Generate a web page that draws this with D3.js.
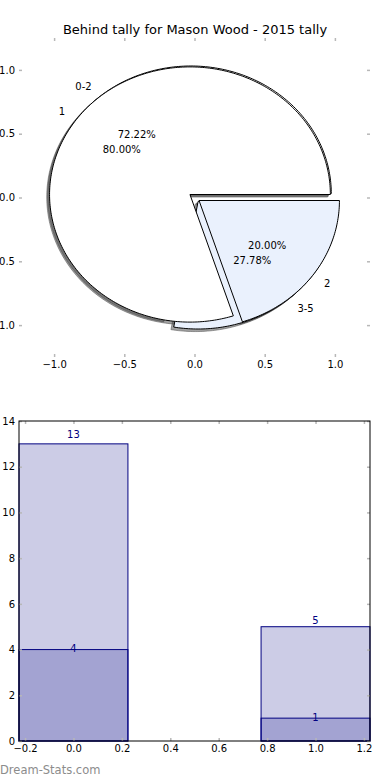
<!DOCTYPE html>
<html>
<head>
<meta charset="utf-8">
<script src="https://cdn.jsdelivr.net/npm/d3@7"></script>
<style>
  body { margin: 0; background: #fff; }
  text { font-family: "DejaVu Sans", sans-serif; }
</style>
</head>
<body>
<div id="chart"></div>
<script>
const svgWidth = 390;
const svgHeight = 780;

const titleText = 'Behind tally for Mason Wood - 2015 tally';

// outer pie: all behind tallies
const groupLabels = ['0-2', '3-5'];
const groupCounts = [13, 5];
// inner pie: behind tallies of one
const subLabels = ['1', '2'];
const subCounts = [4, 1];

const pieTicks = [-1.0, -0.5, 0.0, 0.5, 1.0];

// bar chart
const barPositions = [0, 1];
const barTotals = [13, 5];
const barSubs = [4, 1];
const barXTicks = [-0.2, 0.0, 0.2, 0.4, 0.6, 0.8, 1.0, 1.2];
const barYTicks = [0, 2, 4, 6, 8, 10, 12, 14];

const sliceColors = ['#ffffff', '#eaf1fd'];
const explode = 0.04;
const tickColor = '#b8b8b8';

const svg = d3.select('#chart')
    .append('svg')
    .attr('width', svgWidth)
    .attr('height', svgHeight);

// ---------- pie panel ----------
const px = d3.scaleLinear().domain([-1.25, 1.25]).range([19, 370]);
const py = d3.scaleLinear().domain([-1.25, 1.25]).range([357, 38]);

svg.append('text')
    .attr('x', 195)
    .attr('y', 34)
    .attr('text-anchor', 'middle')
    .attr('font-size', 13)
    .text(titleText);

function buildWedges(labels, counts) {
    const total = d3.sum(counts);
    let theta1 = 0;
    return counts.map((c, i) => {
        const frac = c / total;
        const theta2 = theta1 + frac * 360;
        const mid = Math.PI * (theta1 + theta2) / 360;
        const cx = explode * Math.cos(mid);
        const cy = explode * Math.sin(mid);
        const w = {label: labels[i], frac, theta1, theta2, mid, cx, cy, color: sliceColors[i]};
        theta1 = theta2;
        return w;
    });
}

const wedges1 = buildWedges(groupLabels, groupCounts);
const wedges2 = buildWedges(subLabels, subCounts);

const line = d3.line();
function wedgePath(w, ox, oy) {
    const pts = [[px(w.cx + ox), py(w.cy + oy)]];
    const steps = Math.max(2, Math.ceil(w.theta2 - w.theta1));
    d3.range(steps + 1).forEach(k => {
        const a = (w.theta1 + (w.theta2 - w.theta1) * k / steps) * Math.PI / 180;
        pts.push([px(w.cx + ox + Math.cos(a)), py(w.cy + oy + Math.sin(a))]);
    });
    return line(pts) + 'Z';
}

const pieG = svg.append('g');
const allWedges = wedges1.concat(wedges2);

// shadows sit below every wedge
pieG.selectAll('.shadow')
    .data(allWedges)
    .join('path')
    .classed('shadow', true)
    .attr('d', d => wedgePath(d, -0.02, -0.02))
    .attr('fill', 'rgba(70,70,70,0.5)')
    .attr('stroke', 'rgba(70,70,70,0.5)')
    .attr('stroke-width', 1);

pieG.selectAll('.wedge')
    .data(allWedges)
    .join('path')
    .classed('wedge', true)
    .attr('d', d => wedgePath(d, 0, 0))
    .attr('fill', d => d.color)
    .attr('stroke', '#000')
    .attr('stroke-width', 1)
    .attr('stroke-linejoin', 'miter');

pieG.selectAll('.slabel')
    .data(allWedges)
    .join('text')
    .classed('slabel', true)
    .attr('x', d => px(d.cx + 1.1 * Math.cos(d.mid)))
    .attr('y', d => py(d.cy + 1.1 * Math.sin(d.mid)))
    .attr('dy', '0.35em')
    .attr('text-anchor', d => Math.cos(d.mid) > 0 ? 'start' : 'end')
    .attr('font-size', 10)
    .text(d => d.label);

pieG.selectAll('.pct')
    .data(allWedges)
    .join('text')
    .classed('pct', true)
    .attr('x', d => px(d.cx + 0.6 * Math.cos(d.mid)))
    .attr('y', d => py(d.cy + 0.6 * Math.sin(d.mid)))
    .attr('dy', '0.35em')
    .attr('text-anchor', 'middle')
    .attr('font-size', 10)
    .text(d => (d.frac * 100).toFixed(2) + '%');

function styleAxis(g, showLabels) {
    g.select('.domain').remove();
    g.selectAll('.tick line').attr('stroke', tickColor).attr('stroke-width', 1.5);
    g.selectAll('.tick text').attr('font-size', 10).attr('fill', '#000')
        .style('font-family', '"DejaVu Sans", sans-serif');
    if (!showLabels) g.selectAll('.tick text').remove();
}

const fmt1 = d3.format('.1f');
svg.append('g').attr('transform', 'translate(0,357)')
    .call(d3.axisBottom(px).tickValues(pieTicks).tickFormat(fmt1).tickSize(-3).tickPadding(4))
    .call(g => styleAxis(g, true));
svg.append('g').attr('transform', 'translate(0,38)')
    .call(d3.axisTop(px).tickValues(pieTicks).tickSize(-3))
    .call(g => styleAxis(g, false));
svg.append('g').attr('transform', 'translate(19,0)')
    .call(d3.axisLeft(py).tickValues(pieTicks).tickFormat(fmt1).tickSize(-3).tickPadding(4))
    .call(g => styleAxis(g, true));
svg.append('g').attr('transform', 'translate(370,0)')
    .call(d3.axisRight(py).tickValues(pieTicks).tickSize(-3))
    .call(g => styleAxis(g, false));

// ---------- bar panel ----------
const bx = d3.scaleLinear().domain([-0.225, 1.225]).range([19, 370]);
const by = d3.scaleLinear().domain([0, 14]).range([741, 421]);
const barWidth = 0.45;

const barG = svg.append('g');
const totals = barPositions.map((p, i) => ({p, v: barTotals[i]}));
const subs = barPositions.map((p, i) => ({p, v: barSubs[i]}));

[totals, subs].forEach((set, k) => {
    barG.selectAll('.bar' + k)
        .data(set)
        .join('rect')
        .attr('x', d => bx(d.p - barWidth / 2))
        .attr('y', d => by(d.v))
        .attr('width', d => bx(d.p + barWidth / 2) - bx(d.p - barWidth / 2))
        .attr('height', d => by(0) - by(d.v))
        .attr('fill', 'navy')
        .attr('fill-opacity', 0.2)
        .attr('stroke', 'navy')
        .attr('stroke-width', 1);
});

barG.selectAll('.tlabel')
    .data(totals)
    .join('text')
    .attr('x', d => bx(d.p))
    .attr('y', d => by(d.v * 1.02))
    .attr('text-anchor', 'middle')
    .attr('font-size', 10)
    .attr('fill', 'navy')
    .text(d => d.v);

barG.selectAll('.slabel2')
    .data(subs)
    .join('text')
    .attr('x', d => bx(d.p))
    .attr('y', d => by(d.v))
    .attr('dy', '0.25em')
    .attr('text-anchor', 'middle')
    .attr('font-size', 10)
    .attr('fill', 'navy')
    .text(d => d.v);

svg.append('g').attr('transform', 'translate(0,741)')
    .call(d3.axisBottom(bx).tickValues(barXTicks).tickFormat(fmt1).tickSize(-3).tickPadding(4))
    .call(g => styleAxis(g, true));
svg.append('g').attr('transform', 'translate(0,421)')
    .call(d3.axisTop(bx).tickValues(barXTicks).tickSize(-3))
    .call(g => styleAxis(g, false));
svg.append('g').attr('transform', 'translate(19,0)')
    .call(d3.axisLeft(by).tickValues(barYTicks).tickFormat(d3.format('d')).tickSize(-3).tickPadding(4))
    .call(g => styleAxis(g, true));
svg.append('g').attr('transform', 'translate(370,0)')
    .call(d3.axisRight(by).tickValues(barYTicks).tickSize(-3))
    .call(g => styleAxis(g, false));

svg.append('rect')
    .attr('x', bx.range()[0])
    .attr('y', by.range()[1])
    .attr('width', bx.range()[1] - bx.range()[0])
    .attr('height', by.range()[0] - by.range()[1])
    .attr('fill', 'none')
    .attr('stroke', '#000')
    .attr('stroke-width', 1);

svg.append('text')
    .attr('x', 0)
    .attr('y', 774)
    .attr('font-size', 11.5)
    .attr('fill', '#8c8c8c')
    .text('Dream-Stats.com');
</script>
</body>
</html>
